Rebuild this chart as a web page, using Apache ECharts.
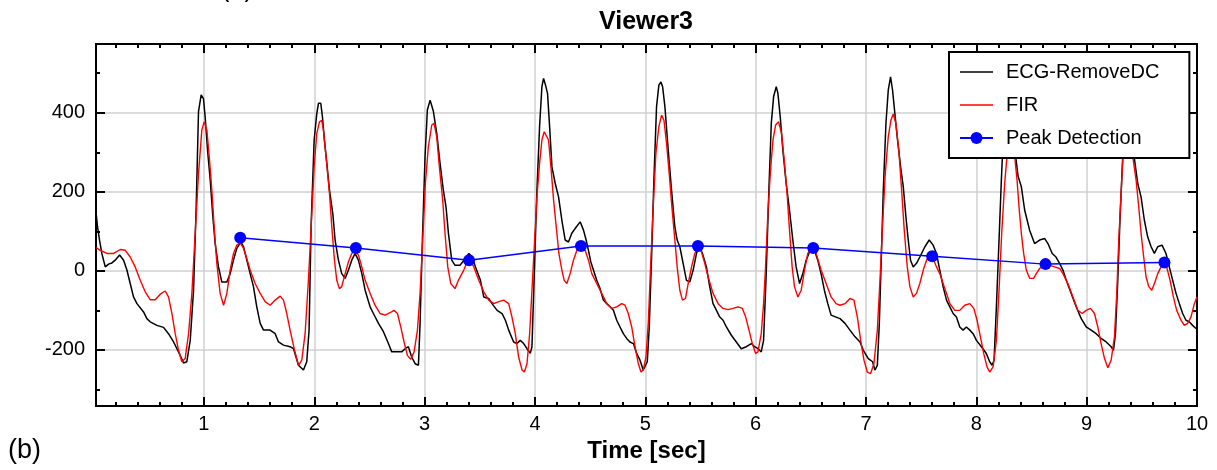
<!DOCTYPE html>
<html>
<head>
<meta charset="utf-8">
<title>Viewer3</title>
<script src="https://cdn.jsdelivr.net/npm/echarts@6/dist/echarts.min.js"></script>
<style>
  html, body { margin: 0; padding: 0; background: #fff; }
  #chart { width: 1217px; height: 470px; }
</style>
</head>
<body>
<div id="chart"></div>
<script>
// ECG-RemoveDC (black) — time [sec] / amplitude
const ecgTime = [
  0.022, 0.036, 0.054, 0.075, 0.106, 0.136, 0.166, 0.196, 0.236, 0.272, 0.302, 0.332, 0.362, 0.393, 0.453, 0.483, 0.513, 0.574, 0.634, 0.679, 0.725, 0.770, 0.815, 0.845, 0.876, 0.906,
  0.930, 0.951, 0.975, 0.996, 1.011, 1.033, 1.057, 1.081, 1.102, 1.132, 1.162, 1.208, 1.238, 1.268, 1.298, 1.335, 1.359, 1.389, 1.419, 1.449, 1.479, 1.510, 1.540, 1.600, 1.646, 1.676, 1.721, 1.781, 1.812, 1.857, 1.902, 1.932, 1.953,
  1.972, 1.999, 2.023, 2.038, 2.059, 2.074, 2.092, 2.114, 2.138, 2.168, 2.189, 2.219, 2.249, 2.280, 2.310, 2.340, 2.370, 2.400, 2.431, 2.461, 2.506, 2.536, 2.582, 2.627, 2.672, 2.702, 2.748, 2.793, 2.823, 2.853, 2.883, 2.914, 2.944, 2.959,
  2.980, 3.004, 3.025, 3.050, 3.080, 3.110, 3.140, 3.170, 3.194, 3.216, 3.246, 3.276, 3.321, 3.370, 3.401, 3.431, 3.461, 3.506, 3.536, 3.581, 3.611, 3.657, 3.702, 3.732, 3.762, 3.807, 3.837, 3.867, 3.898, 3.928, 3.958, 3.973,
  3.994, 4.018, 4.042, 4.063, 4.078, 4.093, 4.114, 4.133, 4.154, 4.184, 4.214, 4.244, 4.274, 4.304, 4.334, 4.364, 4.410, 4.440, 4.464, 4.485, 4.506, 4.530, 4.560, 4.590, 4.620, 4.651, 4.681, 4.711, 4.741, 4.771, 4.801, 4.831, 4.861, 4.892, 4.922, 4.952, 4.982, 4.997, 5.018, 5.036,
  5.057, 5.078, 5.102, 5.123, 5.142, 5.157, 5.178, 5.208, 5.238, 5.268, 5.289, 5.313, 5.343, 5.373, 5.404, 5.434, 5.464, 5.488, 5.518, 5.554, 5.584, 5.614, 5.645, 5.675, 5.705, 5.735, 5.780, 5.825, 5.870, 5.916, 5.961, 5.991, 6.021, 6.051, 6.072,
  6.096, 6.120, 6.142, 6.163, 6.187, 6.202, 6.223, 6.247, 6.277, 6.307, 6.337, 6.367, 6.398, 6.428, 6.458, 6.503, 6.533, 6.563, 6.593, 6.623, 6.654, 6.684, 6.729, 6.765, 6.810, 6.855, 6.901, 6.946, 6.976, 7.021, 7.060, 7.081, 7.103, 7.121,
  7.142, 7.157, 7.181, 7.202, 7.223, 7.241, 7.262, 7.286, 7.314, 7.338, 7.362, 7.383, 7.404, 7.428, 7.458, 7.488, 7.534, 7.573, 7.609, 7.639, 7.669, 7.699, 7.730, 7.760, 7.790, 7.820, 7.850, 7.880, 7.910, 7.941, 7.971, 8.001, 8.046, 8.091, 8.121, 8.143, 8.161,
  8.182, 8.206, 8.227, 8.248, 8.270, 8.290, 8.310, 8.330, 8.357, 8.378, 8.408, 8.438, 8.483, 8.528, 8.574, 8.619, 8.649, 8.688, 8.722, 8.755, 8.785, 8.815, 8.860, 8.905, 8.951, 8.996, 9.041, 9.086, 9.131, 9.177, 9.222, 9.243, 9.261,
  9.282, 9.303, 9.327, 9.350, 9.370, 9.395, 9.430, 9.463, 9.493, 9.523, 9.553, 9.584, 9.614, 9.644, 9.683, 9.719, 9.749, 9.780, 9.810, 9.840, 9.870, 9.900, 9.930, 9.960, 9.991, 10
];
const ecgValue = [
  150, 111, 78, 44, 10, 17, 20, 27, 40, 27, 2, -32, -66, -83, -104, -121, -129, -138, -143, -159, -180, -205, -233, -230, -176, -49,
  162, 403, 445, 436, 390, 305, 230, 137, 69, 10, -28, -28, -7, 27, 57, 73, 61, 27, -7, -40, -91, -133, -150, -150, -159, -180, -188, -192, -197, -239, -251, -230, -150,
  120, 331, 398, 424, 424, 390, 331, 272, 204, 145, 78, 27, -7, -19, 2, 27, 44, 27, -7, -49, -91, -108, -133, -154, -184, -205, -205, -205, -197, -192, -218, -235, -239, -133,
  78, 289, 407, 432, 403, 348, 272, 204, 162, 95, 27, 14, 14, 31, 44, 35, 10, -24, -66, -70, -83, -100, -108, -125, -150, -180, -184, -176, -184, -197, -209, -192,
  -7, 204, 365, 466, 487, 473, 449, 365, 263, 221, 187, 128, 78, 73, 95, 107, 124, 103, 78, 52, 23, 2, -24, -45, -74, -83, -91, -100, -125, -142, -159, -171, -180, -184, -209, -226, -251, -251, -230, -142,
  35, 230, 415, 470, 478, 466, 415, 305, 204, 111, 78, 61, 19, -24, -28, 2, 44, 61, 44, 10, -40, -83, -100, -117, -125, -142, -163, -180, -197, -192, -184, -192, -197, -205, -176,
  -7, 204, 373, 441, 466, 449, 390, 305, 221, 154, 78, 10, -32, -7, 27, 57, 52, 27, -7, -49, -83, -112, -117, -121, -133, -150, -167, -180, -201, -222, -230, -251, -239, -133,
  61, 204, 373, 457, 491, 457, 398, 331, 263, 213, 137, 78, 27, 10, 19, 35, 61, 78, 65, 44, 2, -40, -74, -91, -108, -117, -142, -150, -142, -150, -159, -176, -192, -209, -230, -239, -226,
  -91, 78, 230, 360, 440, 470, 440, 380, 289, 240, 213, 154, 103, 69, 78, 82, 69, 44, 35, 19, 2, -24, -57, -91, -121, -142, -150, -159, -171, -180, -192, -201, -159,
  -24, 137, 289, 400, 455, 400, 289, 221, 187, 128, 86, 61, 44, 61, 65, 44, 10, -24, -57, -83, -108, -125, -129, -138, -146, -146
];

// FIR (red)
const firTime = [
  0.022, 0.060, 0.121, 0.181, 0.242, 0.287, 0.332, 0.377, 0.423, 0.468, 0.513, 0.559, 0.604, 0.649, 0.679, 0.710, 0.740, 0.770, 0.800, 0.830, 0.861, 0.891,
  0.921, 0.951, 0.981, 1.002, 1.027, 1.051, 1.072, 1.093, 1.117, 1.147, 1.178, 1.208, 1.238, 1.268, 1.298, 1.329, 1.359, 1.389, 1.419, 1.464, 1.510, 1.555, 1.600, 1.646, 1.691, 1.721, 1.751, 1.781, 1.818, 1.857, 1.887, 1.917, 1.947,
  1.972, 1.999, 2.023, 2.047, 2.068, 2.083, 2.107, 2.138, 2.159, 2.183, 2.204, 2.228, 2.249, 2.280, 2.310, 2.340, 2.370, 2.400, 2.431, 2.461, 2.506, 2.551, 2.597, 2.642, 2.687, 2.723, 2.754, 2.784, 2.814, 2.844, 2.874, 2.905, 2.935, 2.959,
  2.983, 3.007, 3.034, 3.065, 3.086, 3.110, 3.134, 3.164, 3.185, 3.210, 3.237, 3.276, 3.306, 3.355, 3.386, 3.410, 3.446, 3.491, 3.536, 3.581, 3.627, 3.672, 3.717, 3.762, 3.792, 3.822, 3.852, 3.883, 3.904, 3.928, 3.952, 3.973,
  3.994, 4.018, 4.042, 4.063, 4.084, 4.102, 4.123, 4.145, 4.169, 4.193, 4.217, 4.244, 4.265, 4.289, 4.319, 4.349, 4.380, 4.416, 4.455, 4.485, 4.515, 4.560, 4.605, 4.651, 4.696, 4.741, 4.786, 4.816, 4.846, 4.877, 4.907, 4.937, 4.961, 4.982, 5.006, 5.027,
  5.048, 5.072, 5.096, 5.123, 5.148, 5.169, 5.193, 5.217, 5.241, 5.268, 5.289, 5.313, 5.337, 5.364, 5.389, 5.419, 5.449, 5.479, 5.509, 5.539, 5.569, 5.614, 5.660, 5.705, 5.750, 5.795, 5.840, 5.880, 5.910, 5.940, 5.970, 6.000, 6.021, 6.051, 6.072,
  6.090, 6.111, 6.133, 6.157, 6.181, 6.208, 6.235, 6.259, 6.283, 6.307, 6.331, 6.352, 6.383, 6.413, 6.443, 6.473, 6.512, 6.548, 6.593, 6.639, 6.684, 6.729, 6.765, 6.810, 6.855, 6.891, 6.922, 6.952, 6.982, 7.012, 7.042, 7.072, 7.103,
  7.127, 7.151, 7.175, 7.202, 7.226, 7.247, 7.271, 7.298, 7.323, 7.347, 7.374, 7.398, 7.428, 7.458, 7.488, 7.519, 7.549, 7.579, 7.609, 7.639, 7.669, 7.699, 7.730, 7.760, 7.805, 7.850, 7.895, 7.941, 7.977, 8.007, 8.037, 8.067, 8.097, 8.121, 8.152, 8.182,
  8.206, 8.230, 8.257, 8.278, 8.300, 8.318, 8.335, 8.348, 8.369, 8.387, 8.408, 8.429, 8.453, 8.483, 8.519, 8.544, 8.574, 8.619, 8.664, 8.709, 8.755, 8.785, 8.830, 8.875, 8.920, 8.960, 8.996, 9.035, 9.071, 9.101, 9.131, 9.162, 9.192, 9.222, 9.252,
  9.273, 9.291, 9.312, 9.327, 9.350, 9.375, 9.395, 9.418, 9.448, 9.472, 9.493, 9.517, 9.538, 9.563, 9.590, 9.614, 9.644, 9.674, 9.698, 9.725, 9.756, 9.786, 9.816, 9.855, 9.885, 9.915, 9.945, 9.976, 10
];
const firValue = [
  59, 52, 44, 44, 54, 52, 35, 10, -24, -53, -73, -73, -59, -51, -66, -108, -159, -201, -230, -222, -159, -57,
  95, 246, 356, 377, 356, 280, 204, 111, 19, -57, -87, -57, 2, 44, 65, 71, 57, 31, 2, -32, -57, -78, -87, -74, -64, -74, -108, -150, -197, -239, -226, -159, -24,
  111, 263, 348, 377, 381, 356, 289, 196, 111, 27, -24, -45, -40, -7, 23, 44, 52, 40, 10, -24, -57, -87, -108, -112, -106, -100, -108, -142, -180, -214, -224, -205, -150, -57,
  78, 221, 314, 369, 373, 339, 263, 179, 95, 10, -32, -45, -24, 2, 23, 27, 10, -24, -53, -74, -83, -78, -74, -83, -117, -159, -218, -251, -256, -235, -159, -49,
  61, 187, 272, 331, 352, 354, 331, 263, 179, 111, 44, 2, -24, -32, -7, 27, 52, 67, 52, 27, -7, -32, -57, -83, -95, -91, -83, -87, -108, -142, -192, -235, -256, -251, -218, -133,
  10, 162, 297, 365, 394, 381, 322, 246, 162, 78, 10, -49, -74, -70, -32, 10, 44, 62, 48, 19, -15, -57, -83, -95, -98, -95, -91, -95, -117, -150, -184, -209, -205, -159, -83,
  10, 145, 246, 331, 369, 377, 348, 280, 204, 103, 10, -40, -66, -49, 2, 44, 61, 44, 2, -32, -66, -83, -87, -83, -70, -74, -117, -176, -226, -256, -260, -235, -150,
  -24, 120, 246, 339, 381, 397, 373, 305, 204, 103, 10, -40, -66, -57, -32, 2, 27, 40, 31, 10, -7, -32, -57, -83, -100, -100, -87, -83, -95, -125, -167, -209, -243, -256, -243, -176,
  -49, 95, 221, 289, 370, 385, 340, 289, 230, 162, 95, 44, 2, -19, -19, -7, 6, 19, 14, 10, 6, -7, -32, -66, -100, -108, -100, -95, -108, -142, -184, -222, -245, -226, -167,
  -57, 78, 196, 280, 350, 380, 350, 289, 230, 162, 95, 35, -15, -40, -49, -32, -7, 10, 19, 10, -24, -66, -100, -125, -138, -133, -117, -83, -66
];

// Peak Detection (blue)
const peakTime = [1.329, 2.377, 3.403, 4.417, 5.477, 6.522, 7.600, 8.627, 9.705];
const peakValue = [84, 58, 27, 63, 63, 58, 37, 17, 21];

const seriesNames = ['ECG-RemoveDC', 'FIR', 'Peak Detection'];
const seriesColors = ['#000000', '#ff0000', '#0000ff'];

// axis ticks
const xTickLabels = [1, 2, 3, 4, 5, 6, 7, 8, 9, 10];
const yTickLabels = [-200, 0, 200, 400];
const yMinorTicks = [-300, -100, 100, 300, 500];
const xMinorTicks = [];
for (let i = 1; i < 50; i++) {
  if (i % 5 !== 0) xMinorTicks.push((i * 2) / 10);
}

const X_MIN = 0.022, X_MAX = 10;
const Y_MIN = -342, Y_MAX = 574;
const FONT = '"Liberation Sans", Arial, sans-serif';
const LINE_ICON = 'path://M0,0H33V1.5H0Z'; // plain line for series without markers

const zip = (ts, vs) => ts.map((t, i) => [t, vs[i]]);

// one axis: major (labels, grid) or minor (short ticks only)
function makeAxis(position, major, ticks, extra) {
  const isX = position === 'top' || position === 'bottom';
  return Object.assign({
    type: 'value',
    position: position,
    min: isX ? X_MIN : Y_MIN,
    max: isX ? X_MAX : Y_MAX,
    axisLine: { show: true, onZero: false, lineStyle: { color: '#000', width: 2 } },
    axisTick: {
      show: true,
      inside: true,
      length: major ? 9 : 4,
      customValues: ticks,
      lineStyle: { color: '#000', width: 2 }
    },
    axisLabel: { show: false },
    splitLine: { show: false }
  }, extra || {});
}

const chart = echarts.init(document.getElementById('chart'));

chart.setOption({
  animation: false,
  backgroundColor: '#fff',
  textStyle: { fontFamily: FONT },
  grid: { left: 96, right: 20, top: 44, bottom: 64 },
  xAxis: [
    makeAxis('bottom', true, xTickLabels, {
      axisLabel: { show: true, customValues: xTickLabels, color: '#000', fontSize: 20, margin: 8, fontFamily: FONT },
      splitLine: { show: true, lineStyle: { color: '#d0d0d0', width: 1.5 } },
      name: 'Time [sec]',
      nameLocation: 'middle',
      nameGap: 33,
      nameTextStyle: { color: '#000', fontSize: 24, fontWeight: 'bold', fontFamily: FONT }
    }),
    makeAxis('bottom', false, xMinorTicks),
    makeAxis('top', true, xTickLabels),
    makeAxis('top', false, xMinorTicks)
  ],
  yAxis: [
    makeAxis('left', true, yTickLabels, {
      axisLabel: { show: true, customValues: yTickLabels, color: '#000', fontSize: 20, margin: 11, fontFamily: FONT },
      splitLine: { show: true, lineStyle: { color: '#d0d0d0', width: 1.5 } }
    }),
    makeAxis('left', false, yMinorTicks),
    makeAxis('right', true, yTickLabels),
    makeAxis('right', false, yMinorTicks)
  ],
  legend: {
    orient: 'vertical',
    left: 949,
    top: 52,
    padding: [8, 30, 8, 10],
    itemWidth: 33,
    itemHeight: 15,
    itemGap: 9,
    backgroundColor: '#fff',
    borderColor: '#000',
    borderWidth: 2,
    textStyle: { color: '#000', fontSize: 20, fontFamily: FONT, lineHeight: 24, padding: [0, 0, 0, 8] },
    data: [
      { name: seriesNames[0], icon: LINE_ICON },
      { name: seriesNames[1], icon: LINE_ICON },
      { name: seriesNames[2] }
    ]
  },
  graphic: [
    {
      type: 'text', x: 646, y: 22, z: 10,
      style: { text: 'Viewer3', fill: '#000', font: 'bold 25px ' + FONT, align: 'center', verticalAlign: 'middle' }
    },
    {
      type: 'text', x: 8, y: 451, z: 10,
      style: { text: '(b)', fill: '#000', font: '27px ' + FONT, align: 'left', verticalAlign: 'middle' }
    },
    {
      type: 'text', x: 237, y: -11, z: 10,
      style: { text: '(a)', fill: '#000', font: '27px ' + FONT, align: 'center', verticalAlign: 'middle' }
    }
  ],
  series: [
    {
      name: seriesNames[0],
      type: 'line',
      data: zip(ecgTime, ecgValue),
      symbol: 'none',
      z: 2,
      lineStyle: { color: seriesColors[0], width: 1.5 },
      itemStyle: { color: seriesColors[0] }
    },
    {
      name: seriesNames[1],
      type: 'line',
      data: zip(firTime, firValue),
      symbol: 'none',
      z: 3,
      lineStyle: { color: seriesColors[1], width: 1.4 },
      itemStyle: { color: seriesColors[1] }
    },
    {
      name: seriesNames[2],
      type: 'line',
      data: zip(peakTime, peakValue),
      symbol: 'circle',
      symbolSize: 12,
      z: 4,
      lineStyle: { color: seriesColors[2], width: 1.5 },
      itemStyle: { color: seriesColors[2] }
    }
  ]
});
</script>
</body>
</html>
